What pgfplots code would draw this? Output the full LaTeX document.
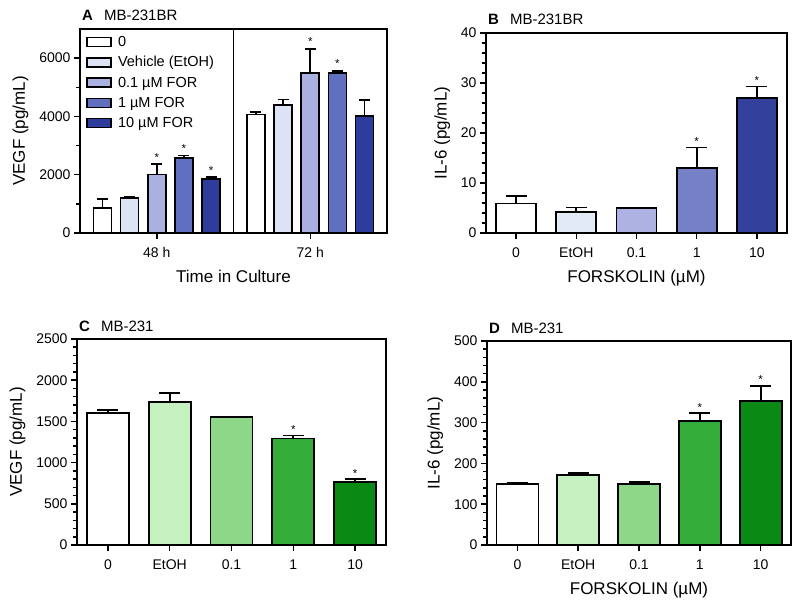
\documentclass[border=0pt]{standalone}
\usepackage{pgfplots}
\pgfplotsset{compat=1.18}
\usepackage{fontspec}
\setmainfont{Liberation Sans}
\definecolor{bA1}{HTML}{DCE3F4}
\definecolor{bA2}{HTML}{AAB0E0}
\definecolor{bA3}{HTML}{6170BE}
\definecolor{bA4}{HTML}{2E3C9C}
\definecolor{bB1}{HTML}{E2EAF6}
\definecolor{bB2}{HTML}{ADB2E3}
\definecolor{bB3}{HTML}{7680C6}
\definecolor{bB4}{HTML}{33409C}
\definecolor{g1}{HTML}{C5F0C0}
\definecolor{g2}{HTML}{8ED688}
\definecolor{g3}{HTML}{34AC3A}
\definecolor{g4}{HTML}{0A8A14}
\pgfplotsset{
  panel/.style={
    scale only axis, anchor=south west, clip=false,
    axis line style={line width=1.8pt},
    every tick/.style={black, line width=1.5pt},
    major tick length=6pt, minor tick length=4pt,
    tick align=outside, xtick pos=left, ytick pos=left,
    tick label style={font=\fontsize{14}{16}\selectfont},
    xticklabel style={yshift=-5pt},
    label style={font=\fontsize{17}{20}\selectfont},
    xlabel style={yshift=-6pt},
    ylabel style={yshift=4pt},
    /pgf/number format/assume math mode=true,
    /pgf/number format/1000 sep={},
    scaled ticks=false,
    ymin=0,
    xtick={0,1,2,3,4},
    xticklabels={0,EtOH,0.1,1,10},
    xmin=-0.5, xmax=4.5,
    minor y tick num=4,
  },
  capw/.initial=10.5pt,
  bb/.style={ybar, bar shift=0pt, draw=black, line width=1.8pt, fill=#1,
    error bars/y dir=plus, error bars/y explicit,
    error bars/error bar style={line width=1.8pt, black},
    error bars/error mark options={rotate=90, mark size=\pgfkeysvalueof{/pgfplots/capw}, line width=1.8pt, black}},
}
\newcommand{\ptitle}[3]{\node[anchor=base west, inner sep=0pt] at ([xshift=2pt, yshift=8pt]#1.north west) {{\fontsize{15}{18}\selectfont\bfseries #2}\hspace{11pt}{\fontsize{15}{17}\selectfont #3}};}
\newcommand{\st}[2]{\node[anchor=base, inner sep=0pt, font=\fontsize{11.5}{12}\selectfont] at (axis cs:#1,#2) {*};}
\begin{document}
\begin{tikzpicture}
\useasboundingbox (0,0) rectangle (800pt,603pt);
% Panel A
\begin{axis}[panel, name=pA, at={(80pt,370pt)}, width=307pt, height=204pt,
  xmin=-0.5, xmax=1.5, ymax=7000,
  xtick={0,1}, xticklabels={48 h,72 h},
  ytick={0,2000,4000,6000}, minor y tick num=1,
  xlabel={Time in Culture}, ylabel={VEGF (pg/mL)},
  legend style={at={(rel axis cs:0.02,0.975)}, anchor=north west, draw=none, fill=none,
    font=\fontsize{14.5}{16}\selectfont, row sep=4.5pt, inner sep=0pt,
    cells={anchor=west}},
  legend image code/.code={\draw[#1, line width=1.6pt] (0pt,-4.5pt) rectangle (24pt,4.5pt); \path (28pt,0pt);},
  capw=5.5pt,
  ]
\addplot[bb=white, bar width=18pt] coordinates {(-0.354,870) +- (0,287) (0.646,4066) +- (0,92)};
\addplot[bb=bA1, bar width=18pt] coordinates {(-0.177,1214) +- (0,26) (0.823,4387) +- (0,195)};
\addplot[bb=bA2, bar width=18pt] coordinates {(0,2005) +- (0,355) (1,5498) +- (0,825)};
\addplot[bb=bA3, bar width=18pt] coordinates {(0.177,2566) +- (0,91) (1.177,5487) +- (0,80)};
\addplot[bb=bA4, bar width=18pt] coordinates {(0.354,1856) +- (0,57) (1.354,4021) +- (0,538)};
\legend{0,Vehicle (EtOH),0.1 µM FOR,1 µM FOR,10 µM FOR}
\addplot[sharp plot, forget plot, mark=none, black, line width=1.8pt] coordinates {(0.5,0) (0.5,7000)};
\st{0}{2460}\st{0.177}{2757}\st{0.354}{2013}
\st{1}{6423}\st{1.177}{5667}
\end{axis}
\ptitle{pA}{A}{MB-231BR}
% Panel B
\begin{axis}[panel, name=pB, at={(486pt,370pt)}, width=301pt, height=200pt,
  ymax=40, ytick={0,10,20,30,40},
  xlabel={FORSKOLIN (µM)}, ylabel={IL-6 (pg/mL)}]
\addplot[bb=white, bar width=40pt] coordinates {(0,5.9) +- (0,1.46)};
\addplot[bb=bB1, bar width=40pt] coordinates {(1,4.15) +- (0,0.93)};
\addplot[bb=bB2, bar width=40pt] coordinates {(2,5.0) +- (0,0.08)};
\addplot[bb=bB3, bar width=40pt] coordinates {(3,13.04) +- (0,4.06)};
\addplot[bb=bB4, bar width=40pt] coordinates {(4,26.96) +- (0,2.34)};
\st{3}{17.5}\st{4}{29.7}
\end{axis}
\ptitle{pB}{B}{MB-231BR}
% Panel C
\begin{axis}[panel, name=pC, at={(77pt,58pt)}, width=309pt, height=206pt,
  ymax=2500, ytick={0,500,1000,1500,2000,2500},
  ylabel={VEGF (pg/mL)}]
\addplot[bb=white, bar width=42pt] coordinates {(0,1600) +- (0,41)};
\addplot[bb=g1, bar width=42pt] coordinates {(1,1734) +- (0,109)};
\addplot[bb=g2, bar width=42pt] coordinates {(2,1552) +- (0,8)};
\addplot[bb=g3, bar width=42pt] coordinates {(3,1292) +- (0,37)};
\addplot[bb=g4, bar width=42pt] coordinates {(4,766) +- (0,32)};
\st{3}{1355}\st{4}{825}
\end{axis}
\ptitle{pC}{C}{MB-231}
% Panel D
\begin{axis}[panel, name=pD, at={(487pt,58pt)}, width=304pt, height=204pt,
  ymax=500, ytick={0,100,200,300,400,500},
  xlabel={FORSKOLIN (µM)}, ylabel={IL-6 (pg/mL)}]
\addplot[bb=white, bar width=42pt] coordinates {(0,150) +- (0,3.3)};
\addplot[bb=g1, bar width=42pt] coordinates {(1,171.6) +- (0,4.9)};
\addplot[bb=g2, bar width=42pt] coordinates {(2,150) +- (0,3.6)};
\addplot[bb=g3, bar width=42pt] coordinates {(3,304) +- (0,18.7)};
\addplot[bb=g4, bar width=42pt] coordinates {(4,353) +- (0,37.5)};
\st{3}{327}\st{4}{395}
\end{axis}
\ptitle{pD}{D}{MB-231}
\end{tikzpicture}
\end{document}
